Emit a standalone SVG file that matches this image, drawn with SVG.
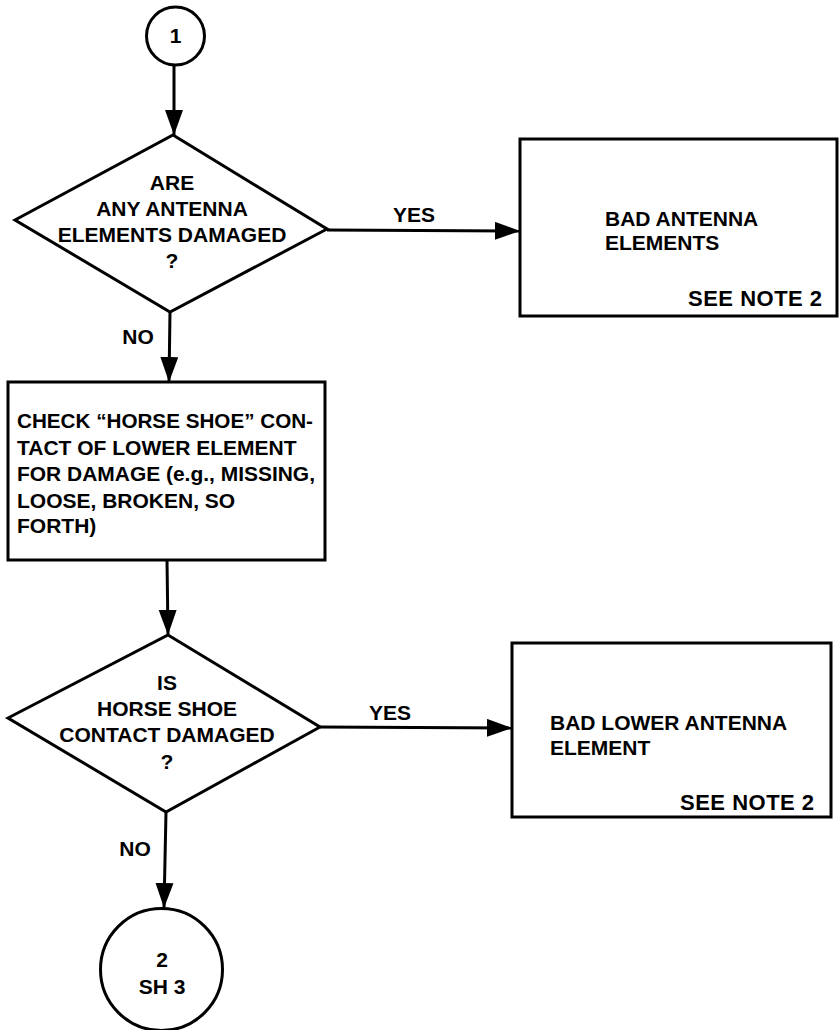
<svg xmlns="http://www.w3.org/2000/svg" width="839" height="1030" viewBox="0 0 839 1030">
<style>
.s{fill:#fff;stroke:#000;stroke-width:3;stroke-linejoin:miter}
.c{fill:none;stroke:#000;stroke-width:3}
text{font-family:"Liberation Sans",Arial,sans-serif;font-weight:bold;font-size:21px;fill:#000}
.m{text-anchor:middle}
.n{font-size:22px;letter-spacing:0.5px}
</style>
<defs>
<marker id="ah" markerUnits="userSpaceOnUse" markerWidth="26" markerHeight="20" refX="25" refY="9" orient="auto">
<path d="M0,0 L25,9 L0,18 Z" fill="#000"/>
</marker>
</defs>
<rect width="839" height="1030" fill="#fff"/>
<g id="connectors">
<path class="c" d="M174,65 L174,135" marker-end="url(#ah)"/>
<path class="c" d="M327,230 L520,231" marker-end="url(#ah)"/>
<path class="c" d="M170,312 L169,382" marker-end="url(#ah)"/>
<path class="c" d="M167,560 L168,635" marker-end="url(#ah)"/>
<path class="c" d="M320,727 L512,728" marker-end="url(#ah)"/>
<path class="c" d="M166,812 L164,908" marker-end="url(#ah)"/>
<text x="414" y="222" class="m">YES</text>
<text x="138" y="344" class="m">NO</text>
<text x="390" y="720" class="m">YES</text>
<text x="135" y="856" class="m">NO</text>
</g>
<g id="start">
<circle class="s" cx="175.5" cy="36" r="29"/>
<text x="175.5" y="43" class="m">1</text>
</g>
<g id="q1">
<polygon class="s" points="173,135 327,229 170,312 15,220"/>
<text x="172" y="189.5" class="m">ARE</text>
<text x="172" y="215.5" class="m">ANY ANTENNA</text>
<text x="172" y="241.5" class="m">ELEMENTS DAMAGED</text>
<text x="172" y="267.5" class="m">?</text>
</g>
<g id="bad1">
<rect class="s" x="520" y="139" width="317" height="177"/>
<text x="605" y="226">BAD ANTENNA</text>
<text x="605" y="250">ELEMENTS</text>
<text x="688" y="306" class="n">SEE NOTE 2</text>
</g>
<g id="check">
<rect class="s" x="8" y="382" width="317" height="178"/>
<text x="17" y="427.5" textLength="296" lengthAdjust="spacingAndGlyphs">CHECK “HORSE SHOE” CON-</text>
<text x="17" y="454.5">TACT OF LOWER ELEMENT</text>
<text x="17" y="480.5" textLength="298" lengthAdjust="spacingAndGlyphs">FOR DAMAGE (e.g., MISSING,</text>
<text x="17" y="507.5">LOOSE, BROKEN, SO</text>
<text x="17" y="532.5">FORTH)</text>
</g>
<g id="q2">
<polygon class="s" points="168,635 320,727 166,812 8,718"/>
<text x="167" y="689.5" class="m">IS</text>
<text x="167" y="715.5" class="m">HORSE SHOE</text>
<text x="167" y="742" class="m">CONTACT DAMAGED</text>
<text x="167" y="769" class="m">?</text>
</g>
<g id="bad2">
<rect class="s" x="512" y="643" width="319" height="174"/>
<text x="550" y="729.5">BAD LOWER ANTENNA</text>
<text x="550" y="754.5">ELEMENT</text>
<text x="680" y="810" class="n">SEE NOTE 2</text>
</g>
<g id="end">
<circle class="s" cx="161.5" cy="969.5" r="61"/>
<text x="162" y="967" class="m">2</text>
<text x="162" y="994" class="m">SH 3</text>
</g>
</svg>
